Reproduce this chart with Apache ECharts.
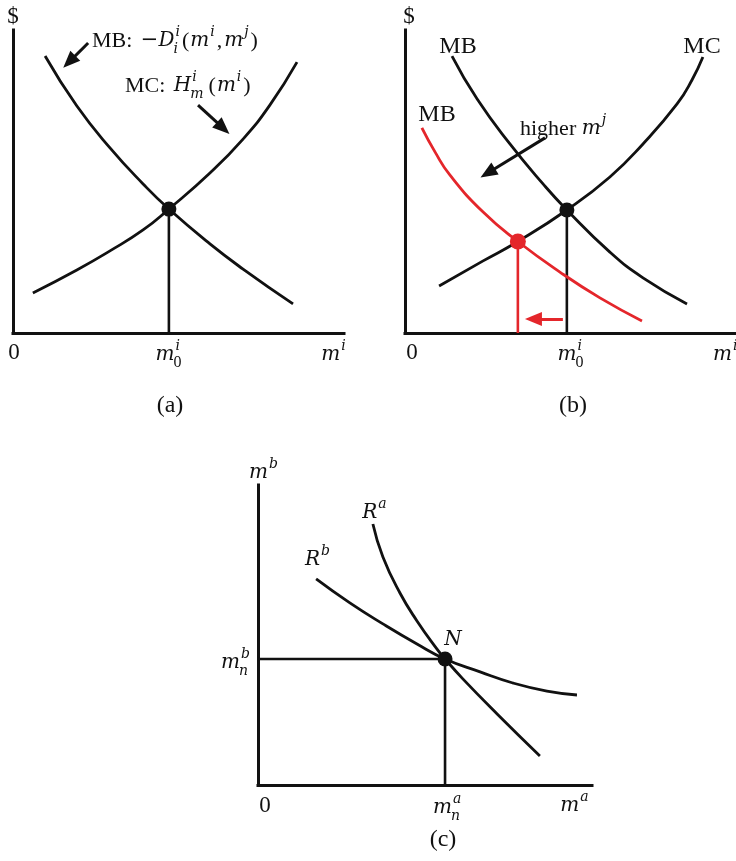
<!DOCTYPE html>
<html>
<head>
<meta charset="utf-8">
<script src="https://cdn.jsdelivr.net/npm/echarts@6/dist/echarts.min.js"></script>
<style>
  html, body { margin: 0; padding: 0; background: #fff; }
  #main { width: 736px; height: 861px; }
</style>
</head>
<body>
<div id="main"></div>
<script>
// ---- Panel (a): marginal benefit / marginal cost of m^i ----
const mbA = [[0.97, 9.14], [1.93, 7.49], [2.93, 6.11], [3.93, 4.92], [4.71, 4.09], [5.95, 2.94], [6.95, 2.11], [8.46, 0.96]];
const mcA = [[0.60, 1.32], [1.93, 2.08], [2.93, 2.71], [3.93, 3.40], [4.71, 4.09], [5.95, 5.28], [6.95, 6.40], [7.76, 7.52], [8.58, 8.94]];
const eqA = [4.71, 4.09];

// ---- Panel (b): MB shifts down for a higher m^j ----
const mbB = [[1.42, 9.14], [2.18, 7.72], [3.17, 6.24], [4.17, 4.92], [4.89, 4.06], [6.19, 2.67], [7.19, 1.82], [8.52, 0.96]];
const mcB = [[1.03, 1.55], [2.36, 2.38], [3.41, 3.02], [4.89, 4.06], [6.19, 5.15], [7.19, 6.24], [8.22, 7.56], [8.67, 8.35], [9.00, 9.11]];
const mbBHigher = [[0.51, 6.77], [0.91, 5.97], [1.36, 5.21], [2.36, 3.99], [3.41, 3.02], [4.68, 2.01], [5.89, 1.16], [7.16, 0.40]];
const eqB = [4.89, 4.06];
const eqBHigher = [3.41, 3.02];

// ---- Panel (c): reaction functions and the Nash point ----
const reactA = [[3.44, 8.70], [3.74, 7.60], [4.25, 6.40], [4.76, 5.47], [5.36, 4.53], [5.60, 4.20], [6.14, 3.53], [7.16, 2.37], [8.44, 0.97]];
const reactB = [[1.74, 6.87], [2.75, 6.07], [3.74, 5.37], [4.76, 4.70], [5.60, 4.20], [6.65, 3.77], [7.63, 3.40], [8.65, 3.13], [9.55, 3.00]];
const nashC = [5.60, 4.20];

// arrows: [start, end] in axis units
const arrowsA = [[[2.27, 9.57], [1.70, 8.95]], [[5.59, 7.52], [6.35, 6.76]]];
const arrowB = [[4.23, 6.44], [2.50, 5.28]];
const shiftArrowB = [[4.77, 0.46], [3.88, 0.46]];

const BLACK = '#111';
const RED = '#e4262b';
const ROMAN = '"Liberation Serif", "Times New Roman", serif';
const MATH = '"DejaVu Serif", "Liberation Serif", serif';
const RS = 23;   // roman text size
const IS = 20;   // italic math letter size

const chart = echarts.init(document.getElementById('main'), null, { renderer: 'canvas' });

function axis(gridIndex) {
  return {
    type: 'value', gridIndex, min: 0, max: 10,
    axisLine: { show: true, onZero: false, lineStyle: { color: BLACK, width: 3, cap: 'square' } },
    axisTick: { show: false }, axisLabel: { show: false }, splitLine: { show: false }
  };
}

function curve(data, idx, color, extra) {
  return Object.assign({
    type: 'line', xAxisIndex: idx, yAxisIndex: idx, data, smooth: 0.5,
    showSymbol: false, symbol: 'none', silent: true, animation: false,
    lineStyle: { color, width: 2.8 }, z: 3
  }, extra || {});
}

function dropLine(pt, idx, color) {
  return curve([[pt[0], 0], pt], idx, color, { smooth: false, lineStyle: { color, width: 2.6 }, z: 2 });
}

function dot(pt, idx, color, size) {
  return {
    type: 'scatter', xAxisIndex: idx, yAxisIndex: idx, data: [pt], symbolSize: size,
    itemStyle: { color, opacity: 1 }, silent: true, animation: false, z: 5
  };
}

function arrowSeries(list, idx, color) {
  return {
    type: 'line', xAxisIndex: idx, yAxisIndex: idx, data: [], silent: true, animation: false,
    markLine: {
      silent: true, animation: false, symbol: ['none', 'triangle'], symbolSize: [14, 17],
      label: { show: false },
      lineStyle: { color, width: 3, type: 'solid' },
      data: list.map(a => [{ coord: a[0] }, { coord: a[1] }])
    }
  };
}

// --- text with italic letters, superscripts and subscripts ---
// piece kinds: 'r' roman text, 'i' italic math letter, 'o' upright math symbol
const meas = document.createElement('canvas').getContext('2d');
function fontOf(size, kind) {
  if (kind === 'i') return 'italic ' + size + 'px ' + MATH;
  if (kind === 'o') return size + 'px ' + MATH;
  return size + 'px ' + ROMAN;
}
function tw(t, size, kind) {
  meas.font = fontOf(size, kind);
  return meas.measureText(t).width;
}
function txt(x, y, t, size, kind, color) {
  return {
    type: 'text', x, y, silent: true,
    style: {
      text: t, font: fontOf(size, kind), fill: color,
      align: 'left', verticalAlign: 'middle', textAlign: 'left', textVerticalAlign: 'middle'
    }
  };
}
// script text: digits upright, letters italic
function scriptSpec(s) {
  return /^[0-9]+$/.test(s) ? [16, 'r'] : [14, 'i'];
}
// pieces: [text, kind, sup, sub, gapAfter]
function mathText(x, y, pieces, align, color, rsize) {
  color = color || BLACK;
  const sizeOf = p => p[1] === 'i' ? IS : p[1] === 'o' ? 21 : (rsize || RS);
  const widths = pieces.map(p => {
    let s = 0, b = 0;
    if (p[2]) { const sp = scriptSpec(p[2]); s = tw(p[2], sp[0], sp[1]); }
    if (p[3]) { const sp = scriptSpec(p[3]); b = tw(p[3], sp[0], sp[1]); }
    return tw(p[0], sizeOf(p), p[1]) + Math.max(s, b) + (p[2] || p[3] ? 2 : 0) + (p[4] || 0);
  });
  const total = widths.reduce((a, b) => a + b, 0);
  let cx = align === 'left' ? x : align === 'right' ? x - total : x - total / 2;
  const out = [];
  pieces.forEach((p, k) => {
    const size = sizeOf(p);
    const bw = tw(p[0], size, p[1]);
    out.push(txt(cx, y, p[0], size, p[1], color));
    if (p[2]) { const sp = scriptSpec(p[2]); out.push(txt(cx + bw + 1, y - 9, p[2], sp[0], sp[1], color)); }
    if (p[3]) { const sp = scriptSpec(p[3]); out.push(txt(cx + bw - 1, y + 8, p[3], sp[0], sp[1], color)); }
    cx += widths[k];
  });
  return out;
}

const labels = [].concat(
  // panel (a)
  mathText(13, 17, [['$', 'r']], 'center'),
  mathText(92, 41, [['MB: ', 'r', null, null, 3], ['\u2212', 'o'], ['D', 'i', 'i', 'i', 1], ['(', 'r', null, null, 1], ['m', 'i', 'i', null, 1], [',', 'r', null, null, 2], ['m', 'i', 'j', null, 1], [')', 'r']], 'left', BLACK, 22),
  mathText(125, 86, [['MC: ', 'r', null, null, 3], ['H', 'i', 'i', 'm', 2], ['(', 'r', null, null, 1], ['m', 'i', 'i', null, 1], [')', 'r']], 'left', BLACK, 22),
  mathText(14, 353, [['0', 'r']], 'center'),
  mathText(170, 355, [['m', 'i', 'i', '0']], 'center'),
  mathText(334, 355, [['m', 'i', 'i']], 'center'),
  mathText(170, 406, [['(a)', 'r']], 'center', BLACK, 24),
  // panel (b)
  mathText(409, 17, [['$', 'r']], 'center'),
  mathText(458, 47, [['MB', 'r']], 'center', BLACK, 24),
  mathText(702, 47, [['MC', 'r']], 'center', BLACK, 24),
  mathText(437, 115, [['MB', 'r']], 'center', BLACK, 24),
  mathText(520, 129, [['higher ', 'r'], ['m', 'i', 'j']], 'left', BLACK, 22),
  mathText(412, 353, [['0', 'r']], 'center'),
  mathText(572, 355, [['m', 'i', 'i', '0']], 'center'),
  mathText(713, 355, [['m', 'i', 'i']], 'left'),
  mathText(573, 406, [['(b)', 'r']], 'center', BLACK, 24),
  // panel (c)
  mathText(264, 473, [['m', 'i', 'b']], 'center'),
  mathText(375, 513, [['R', 'i', 'a']], 'center'),
  mathText(318, 560, [['R', 'i', 'b']], 'center'),
  mathText(453, 640, [['N', 'i']], 'center'),
  mathText(236, 663, [['m', 'i', 'b', 'n']], 'center'),
  mathText(265, 806, [['0', 'r']], 'center'),
  mathText(448, 808, [['m', 'i', 'a', 'n']], 'center'),
  mathText(575, 806, [['m', 'i', 'a']], 'center'),
  mathText(443, 840, [['(c)', 'r']], 'center', BLACK, 24)
);

const option = {
  backgroundColor: '#fff',
  animation: false,
  grid: [
    { left: 13, top: 30, width: 331, height: 303 },
    { left: 405, top: 30, width: 331, height: 303 },
    { left: 258, top: 485, width: 334, height: 300 }
  ],
  xAxis: [axis(0), axis(1), axis(2)],
  yAxis: [axis(0), axis(1), axis(2)],
  series: [
    // (a)
    dropLine(eqA, 0, BLACK),
    curve(mbA, 0, BLACK),
    curve(mcA, 0, BLACK),
    dot(eqA, 0, BLACK, 15),
    arrowSeries(arrowsA, 0, BLACK),
    // (b)
    dropLine(eqB, 1, BLACK),
    dropLine(eqBHigher, 1, RED),
    curve(mbB, 1, BLACK),
    curve(mcB, 1, BLACK),
    curve(mbBHigher, 1, RED),
    dot(eqB, 1, BLACK, 15),
    dot(eqBHigher, 1, RED, 16),
    arrowSeries([arrowB], 1, BLACK),
    arrowSeries([shiftArrowB], 1, RED),
    // (c)
    curve([[0, nashC[1]], nashC], 2, BLACK, { smooth: false, lineStyle: { color: BLACK, width: 2.6 }, z: 2 }),
    dropLine(nashC, 2, BLACK),
    curve(reactA, 2, BLACK),
    curve(reactB, 2, BLACK),
    dot(nashC, 2, BLACK, 15)
  ],
  graphic: { elements: labels }
};

chart.setOption(option);
</script>
</body>
</html>
